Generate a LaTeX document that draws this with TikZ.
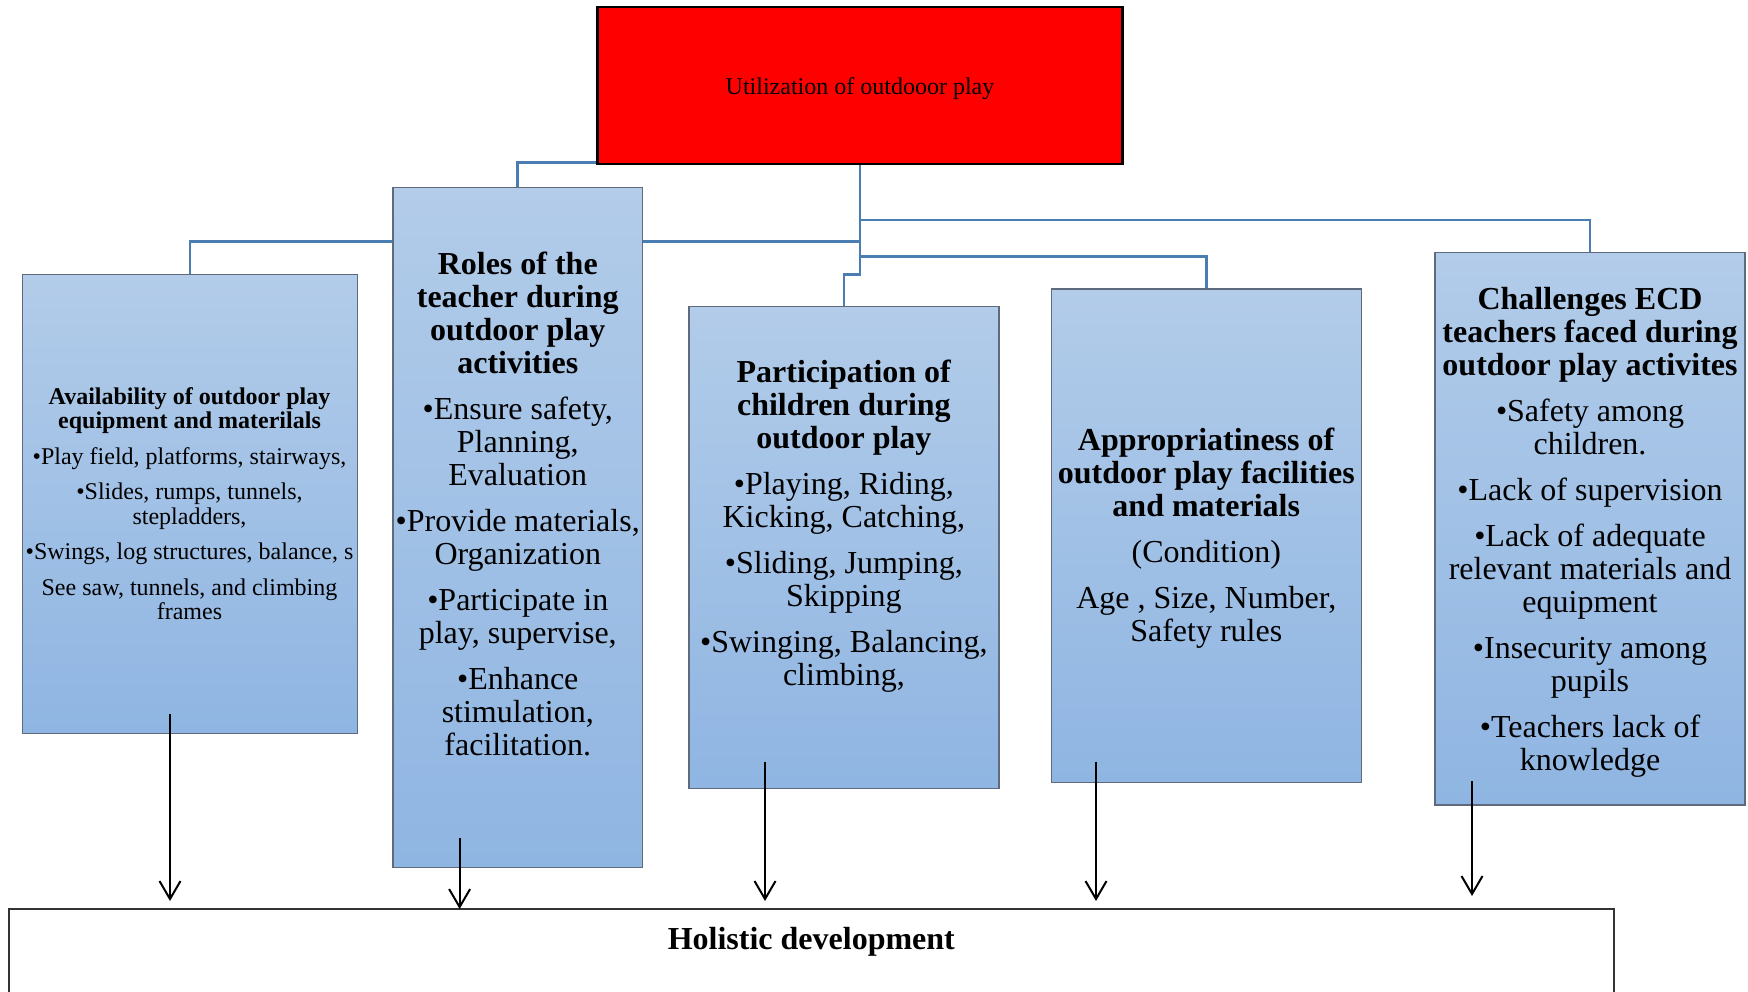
\documentclass[tikz,border=0pt]{standalone}
\usepackage{fontspec}
\setmainfont{Liberation Serif}
\usetikzlibrary{arrows.meta,backgrounds}

\definecolor{boxtop}{HTML}{B2CCE9}
\definecolor{boxbot}{HTML}{8FB5E2}
\definecolor{boxedge}{HTML}{5F6B7C}
\definecolor{linkblue}{HTML}{4A7EB2}

\begin{document}
\begin{tikzpicture}
  [x=0.5pt,y=-0.5pt,
   every node/.style={inner sep=0pt,outer sep=0pt},
   box/.style={rectangle,draw=boxedge,line width=0.7pt,top color=boxtop,bottom color=boxbot},
   txt/.style={align=center,font=\fontsize{16}{16.5}\selectfont},
   smalltxt/.style={align=center,font=\fontsize{12}{12.25}\selectfont},
   link/.style={draw=linkblue,line width=1.3pt},
   flow/.style={-{Straight Barb[length=9pt,width=10.5pt]},line width=1pt}]

  \path[use as bounding box,clip] (0,0) rectangle (1748,991);

  %%%%%%%%%%%%%%%%%%%%%% TOP %%%%%%%%%%%%%%%%%%%%%%

  \node(util) at (860,85.3) [rectangle,draw=black,line width=1.2pt,fill=red,
        minimum width=262.5pt,minimum height=78.6pt] {};
  \node(utiltxt) at (860,88.6) [font=\fontsize{12}{14}\selectfont] {Utilization of outdooor play};

  %%%%%%%%%%%%%%%%%%%%%% BOXES %%%%%%%%%%%%%%%%%%%%%%

  \node(avail)  at (189.8,504)   [box,minimum width=167.5pt,minimum height=229.5pt] {};
  \node(roles)  at (517.75,527.4)[box,minimum width=124.75pt,minimum height=339.9pt] {};
  \node(partic) at (843.9,547.25)[box,minimum width=155pt,minimum height=240.95pt] {};
  \node(approp) at (1206.25,535.8)[box,minimum width=155pt,minimum height=246.8pt] {};
  \node(chall)  at (1590,528.6)  [box,minimum width=155pt,minimum height=276.3pt] {};

  \node(holistic) at (811.3,1008.8) [rectangle,draw=black!80,line width=0.8pt,fill=white,
        minimum width=802.4pt,minimum height=100pt] {};

  %%%%%%%%%%%%%%%%%%%%%% TEXTS %%%%%%%%%%%%%%%%%%%%%%

  \node(availtxt) at (189.5,503.8) [smalltxt]
    {\textbf{Availability of outdoor play}\\ \textbf{equipment and materilals}\\[5.5pt]
     •Play field, platforms, stairways,\\[5.5pt]
     •Slides, rumps, tunnels,\\ stepladders,\\[5.5pt]
     •Swings, log structures, balance, s\\[5.5pt]
     See saw, tunnels, and climbing\\ frames};

  \node(rolestxt) at (517.75,503.5) [txt]
    {\textbf{Roles of the}\\ \textbf{teacher during}\\ \textbf{outdoor play}\\ \textbf{activities}\\[6.5pt]
     •Ensure safety,\\ Planning,\\ Evaluation\\[6.5pt]
     •Provide materials,\\ Organization\\[6.5pt]
     •Participate in\\ play, supervise,\\[6.5pt]
     •Enhance\\ stimulation,\\ facilitation.};

  \node(partictxt) at (843.9,526.5) [txt]
    {\textbf{Participation of}\\ \textbf{children during}\\ \textbf{outdoor play}\\[6.5pt]
     •Playing, Riding,\\ Kicking, Catching,\\[6.5pt]
     •Sliding, Jumping,\\ Skipping\\[6.5pt]
     •Swinging, Balancing,\\ climbing,};

  \node(approptxt) at (1206.25,538.2) [txt]
    {\textbf{Appropriatiness of}\\ \textbf{outdoor play facilities}\\ \textbf{and materials}\\[6.5pt]
     (Condition)\\[6.5pt]
     Age , Size, Number,\\ Safety rules};

  \node(challtxt) at (1590,531.9) [txt]
    {\textbf{Challenges ECD}\\ \textbf{teachers faced during}\\ \textbf{outdoor play activites}\\[6.5pt]
     •Safety among\\ children.\\[6.5pt]
     •Lack of supervision\\[6.5pt]
     •Lack of adequate\\ relevant materials and\\ equipment\\[6.5pt]
     •Insecurity among\\ pupils\\[6.5pt]
     •Teachers lack of\\ knowledge};

  \node(holtxt) at (811.3,941.9) [font=\fontsize{16}{16.5}\selectfont\bfseries] {Holistic development};

  %%%%%%%%%%%%%%%%%%%%%% LINKS %%%%%%%%%%%%%%%%%%%%%%

  \begin{scope}[on background layer]
    \draw[link] (util.south) -- (860,274.3) -| (partic.north);
    \draw[link] (860,220) -| (chall.north);
    \draw[link] (860,256.7) -| (approp.north);
    \draw[link] (860,241.7) -| (avail.north);
    \draw[link] (roles.north) |- ([yshift=0.6pt]util.south west);
  \end{scope}

  %%%%%%%%%%%%%%%%%%%%%% ARROWS %%%%%%%%%%%%%%%%%%%%%%

  \coordinate(a1s) at (170,714);    \coordinate(a1e) at (170,901);
  \coordinate(a2s) at (459.6,838.3);\coordinate(a2e) at (459.6,909);
  \coordinate(a3s) at (765,761.5);  \coordinate(a3e) at (765,901);
  \coordinate(a4s) at (1096,761.5); \coordinate(a4e) at (1096,901);
  \coordinate(a5s) at (1472,781);   \coordinate(a5e) at (1472,896);

  \foreach \fromA/\toA in {a1s/a1e,a2s/a2e,a3s/a3e,a4s/a4e,a5s/a5e}
    \draw[flow] (\fromA) -- (\toA);

\end{tikzpicture}
\end{document}
